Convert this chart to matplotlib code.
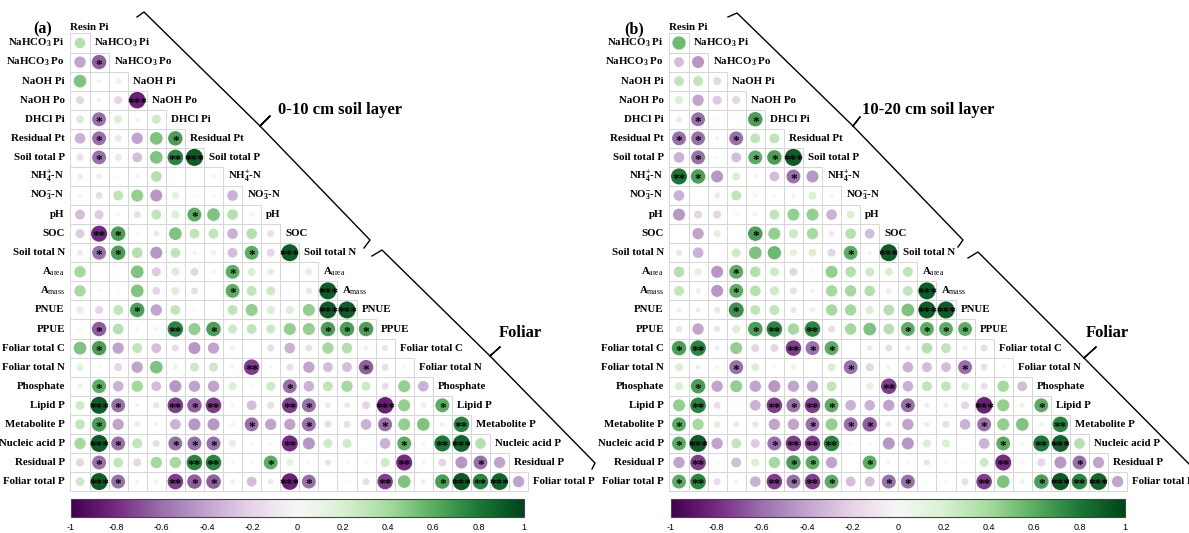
import numpy as np
import matplotlib
matplotlib.use('Agg')
import matplotlib.pyplot as plt
from matplotlib.patches import Circle, Rectangle
from matplotlib.lines import Line2D
from matplotlib.colors import Normalize
from matplotlib.cm import ScalarMappable
from matplotlib.ticker import FuncFormatter
from matplotlib.transforms import Affine2D

plt.rcParams['font.family'] = 'Liberation Serif'
plt.rcParams['mathtext.fontset'] = 'custom'
plt.rcParams['mathtext.rm'] = 'Liberation Serif'
plt.rcParams['mathtext.bf'] = 'Liberation Serif:bold'
plt.rcParams['mathtext.it'] = 'Liberation Serif:italic'

names = ['Resin Pi', r'NaHCO$_\mathbf{3}$ Pi', r'NaHCO$_\mathbf{3}$ Po', 'NaOH Pi', 'NaOH Po',
         'DHCl Pi', 'Residual Pt', 'Soil total P', r'NH$_\mathbf{4}^\mathbf{+}$-N',
         r'NO$_\mathbf{3}^\mathbf{-}$-N', 'pH', 'SOC', 'Soil total N', r'A$_\mathrm{area}$',
         r'A$_\mathrm{mass}$', 'PNUE', 'PPUE', 'Foliar total C', 'Foliar total N', 'Phosphate',
         'Lipid P', 'Metabolite P', 'Nucleic acid P', 'Residual P', 'Foliar total P']

# 0-10 cm layer, lower triangle (row i holds correlations with variables 0..i-1)
r_a = [
    [0.35],
    [-0.4, -0.65],
    [0.5, 0.05, 0.1],
    [-0.2, -0.05, -0.2, -0.85],
    [0.2, -0.6, 0.2, -0.05, 0.25],
    [-0.35, -0.6, 0.15, -0.4, 0.5, 0.65],
    [-0.15, -0.6, 0.15, -0.3, 0.5, 0.75, 0.9],
    [0.1, 0.1, 0.02, 0.05, 0.35, 0.02, 0.0, 0.05],
    [0.05, -0.15, 0.3, 0.45, -0.45, 0.15, 0.02, 0.03, -0.35],
    [-0.3, -0.25, 0.05, -0.15, 0.3, 0.2, 0.6, 0.5, 0.35, 0.05],
    [-0.25, -0.8, 0.65, 0.03, -0.1, 0.5, 0.3, 0.3, -0.35, 0.35, -0.15],
    [-0.1, -0.6, 0.65, 0.35, -0.45, 0.3, 0.05, 0.1, -0.3, 0.6, -0.2, 0.9],
    [0.4, 0.0, 0.02, 0.5, -0.25, 0.2, -0.2, 0.05, 0.6, 0.2, 0.15, 0.02, 0.15],
    [0.4, 0.03, 0.02, 0.5, -0.2, 0.2, -0.15, 0.0, 0.6, 0.3, 0.25, 0.02, 0.15, 0.9],
    [0.15, -0.2, 0.3, 0.65, -0.4, 0.3, 0.02, 0.0, 0.3, 0.45, 0.2, 0.2, 0.45, 0.9, 0.9],
    [0.03, -0.65, 0.35, 0.05, 0.05, 0.75, 0.45, 0.65, 0.25, 0.3, 0.25, 0.45, 0.45, 0.65, 0.65, 0.65],
    [0.5, 0.65, -0.4, 0.3, -0.3, -0.15, -0.45, -0.4, 0.08, 0.0, -0.15, -0.35, -0.15, 0.4, 0.35, 0.08, -0.12],
    [0.15, 0.03, -0.2, -0.4, 0.5, 0.08, 0.25, 0.25, 0.05, -0.75, 0.05, -0.15, -0.4, -0.3, -0.3, -0.65, -0.15, 0.03],
    [0.1, 0.6, -0.35, 0.4, -0.3, -0.45, -0.4, -0.4, 0.2, 0.02, 0.25, -0.6, -0.35, 0.3, 0.4, 0.25, -0.15, 0.45, -0.35],
    [0.25, 0.9, -0.6, 0.05, -0.12, -0.75, -0.65, -0.75, 0.05, -0.3, -0.15, -0.75, -0.6, -0.1, -0.1, -0.2, -0.85, 0.45, 0.1, 0.6],
    [0.3, 0.65, -0.4, -0.1, -0.05, -0.35, -0.45, -0.45, 0.05, -0.6, -0.4, -0.4, -0.6, -0.15, -0.15, -0.35, -0.6, 0.45, 0.5, 0.08, 0.75],
    [0.4, 0.9, -0.6, 0.3, -0.15, -0.6, -0.6, -0.6, 0.15, 0.03, 0.03, -0.8, -0.45, 0.25, 0.25, 0.0, -0.35, 0.6, 0.05, 0.8, 0.88, 0.35],
    [-0.2, -0.6, 0.3, -0.2, 0.4, 0.4, 0.75, 0.75, 0.03, 0.03, 0.6, 0.15, 0.03, -0.12, 0.03, 0.02, 0.25, -0.8, 0.05, -0.2, -0.45, -0.6, -0.4],
    [0.25, 0.9, -0.6, 0.05, -0.05, -0.75, -0.65, -0.65, 0.08, -0.3, -0.1, -0.85, -0.6, 0.0, 0.02, -0.15, -0.75, 0.5, 0.08, 0.65, 0.92, 0.75, 0.88, -0.4],
]
# number of stars per cell
sig_a = ["0", "01", "000", "0003", "01000", "010001", "0100023", "00000000",
         "000000000", "0000001000", "02100000000", "011000000103", "0000000010000",
         "00000000100003", "000100000000033", "0100020100000111", "01000000000000000",
         "000000000200000100", "0100000000010000000", "03100212000210003001",
         "010000000100100010002", "0310011100020000010230", "01000022001000000200010",
         "031002110003100020013230"]

# 10-20 cm layer
r_b = [
    [0.55],
    [-0.3, -0.45],
    [0.3, 0.3, -0.2],
    [0.2, -0.4, -0.25, -0.2],
    [-0.1, -0.6, 0.03, 0.02, 0.65],
    [-0.6, -0.6, 0.05, -0.6, 0.3, 0.3],
    [-0.35, -0.6, 0.03, -0.3, 0.6, 0.65, 0.9],
    [0.8, 0.65, -0.45, 0.2, 0.05, -0.3, -0.6, -0.45],
    [-0.35, 0.0, -0.1, 0.3, 0.05, 0.03, 0.05, 0.2, 0.05],
    [-0.45, -0.2, -0.2, 0.03, 0.05, 0.3, 0.45, 0.45, -0.35, 0.2],
    [0.0, -0.4, 0.15, 0.0, 0.65, 0.45, 0.25, 0.4, -0.1, 0.35, -0.3],
    [-0.12, -0.35, 0.0, 0.25, 0.5, 0.55, 0.15, 0.2, -0.2, 0.6, 0.05, 0.9],
    [0.35, 0.15, -0.45, 0.6, 0.35, 0.25, -0.2, 0.03, 0.45, 0.35, 0.25, 0.2, 0.3],
    [0.3, 0.1, -0.45, 0.6, 0.35, 0.25, -0.15, 0.05, 0.4, 0.4, 0.35, 0.1, 0.3, 0.9],
    [0.1, -0.08, -0.12, 0.7, 0.3, 0.3, -0.12, 0.1, 0.4, 0.4, 0.2, 0.35, 0.5, 0.9, 0.9],
    [-0.12, -0.4, -0.12, 0.2, 0.65, 0.75, 0.4, 0.75, -0.15, 0.4, 0.5, 0.35, 0.6, 0.6, 0.6, 0.6],
    [0.65, 0.75, -0.08, 0.45, -0.2, -0.2, -0.75, -0.6, 0.6, 0.0, -0.1, -0.15, -0.1, 0.35, 0.3, 0.1, -0.15],
    [0.2, -0.08, 0.05, -0.6, 0.2, 0.02, 0.08, 0.0, 0.2, -0.6, -0.2, -0.05, -0.35, -0.3, -0.3, -0.6, -0.15, 0.03],
    [0.2, 0.65, -0.4, 0.45, -0.4, -0.45, -0.4, -0.4, 0.3, 0.02, 0.15, -0.75, -0.35, 0.3, 0.3, 0.2, -0.15, 0.4, -0.3],
    [0.45, 0.75, -0.15, 0.02, -0.35, -0.75, -0.6, -0.75, 0.6, -0.35, -0.35, -0.4, -0.6, -0.08, -0.08, -0.2, -0.85, 0.45, 0.08, 0.6],
    [0.6, 0.4, 0.15, -0.1, -0.12, -0.4, -0.4, -0.6, 0.45, -0.6, -0.65, -0.1, -0.4, -0.08, -0.15, -0.35, -0.6, 0.45, 0.5, 0.08, 0.75],
    [0.6, 0.9, -0.4, 0.3, -0.25, -0.6, -0.75, -0.75, 0.75, 0.03, 0.03, -0.45, -0.45, 0.2, 0.2, 0.0, -0.35, 0.6, 0.05, 0.8, 0.88, 0.35],
    [-0.4, -0.75, 0.03, -0.3, 0.2, 0.4, 0.65, 0.6, -0.4, 0.0, 0.6, 0.05, 0.03, -0.12, 0.03, 0.02, 0.25, -0.8, 0.05, -0.2, -0.45, -0.6, -0.4],
    [0.6, 0.75, -0.15, 0.05, -0.35, -0.75, -0.6, -0.75, 0.6, -0.3, -0.3, -0.6, -0.6, 0.0, 0.02, -0.15, -0.75, 0.5, 0.08, 0.65, 0.92, 0.75, 0.88, -0.4],
]
sig_b = ["0", "00", "000", "0000", "01001", "110100", "0100113", "21000010",
         "000000000", "0000000000", "00001000000", "000000000103", "0001000000000",
         "00010000000003", "000100000000033", "0000120200001111", "12000021100000000",
         "000100000100000100", "0100000000020000000", "02000212100010003001",
         "100000010110000010002", "1300012220000000010230", "02000011001000000200010",
         "120002121001100020013230"]

cbar_ticks = [-1, -0.8, -0.6, -0.4, -0.2, 0, 0.2, 0.4, 0.6, 0.8, 1]

W, H = 1189, 533
fig = plt.figure(figsize=(W / 100, H / 100), dpi=100)
cmap = plt.get_cmap('PRGn')
norm = Normalize(-1, 1)
cw = 19.07  # cell size in pixels
px = Affine2D().scale(1 / W, -1 / H).translate(0, 1) + fig.transFigure
label_size = 7.8


def draw_matrix(x0, y0, r, sig):
    ax = fig.add_axes([0, 0, 1, 1])
    ax.set_xlim(-x0 / cw, (W - x0) / cw)
    ax.set_ylim((H - y0) / cw, -y0 / cw)
    ax.axis('off')
    for i, row in enumerate(r, start=1):
        for j, v in enumerate(row):
            ax.add_patch(Rectangle((j - 0.5, i - 0.5), 1, 1, fc='white', ec='#d6d6d6', lw=0.7))
            if v != 0:
                ax.add_patch(Circle((j, i), 0.47 * np.sqrt(abs(v)), fc=cmap(norm(v)), ec='none'))
            n = int(sig[i - 1][j]) if j < len(sig[i - 1]) else 0
            if n:
                ax.text(j, i + 0.29, '*' * n, ha='center', va='baseline', fontsize=9.5,
                        fontweight='bold', color='black')
        ax.text(-0.8, i, names[i], ha='right', va='center', fontsize=label_size, fontweight='bold')
        ax.text(i - 0.24, i, names[i], ha='left', va='center', fontsize=label_size, fontweight='bold')
    ax.text(-0.5, 0.2, names[0], ha='left', va='center', fontsize=label_size, fontweight='bold')


def bracket(points):
    xs, ys = zip(*points)
    fig.add_artist(Line2D(xs, ys, transform=px, color='black', lw=1.0))


def colorbar(x_left, x_right, y_top, y_bot):
    cax = fig.add_axes([x_left / W, 1 - y_bot / H, (x_right - x_left) / W, (y_bot - y_top) / H])
    cb = fig.colorbar(ScalarMappable(norm=norm, cmap=cmap), cax=cax, orientation='horizontal',
                      ticks=cbar_ticks)
    cb.ax.xaxis.set_major_formatter(FuncFormatter(lambda v, p: '%g' % (round(v, 1) + 0.0)))
    cb.ax.tick_params(length=0, pad=5, labelsize=6.5)
    for lab in cb.ax.get_xticklabels():
        lab.set_fontfamily('Liberation Sans')
    cb.outline.set_linewidth(0.8)
    cb.outline.set_edgecolor('#444444')


# panel (a)
draw_matrix(80, 23.9, r_a, sig_a)
fig.text(43 / W, 1 - 29 / H, '(a)', ha='center', va='center', fontsize=11.5, fontweight='bold')
bracket([(137, 17), (144, 12), (260, 126), (270, 116), (260, 126), (370, 240), (364, 248)])
bracket([(372, 256), (382, 250), (490, 356), (500, 347), (490, 356), (595, 463), (592, 469)])
fig.text(278 / W, 1 - 110 / H, '0-10 cm soil layer', ha='left', va='center', fontsize=12, fontweight='bold')
fig.text(499 / W, 1 - 333 / H, 'Foliar', ha='left', va='center', fontsize=12, fontweight='bold')
colorbar(71, 524, 498.5, 516.5)

# panel (b)
draw_matrix(679, 23.9, r_b, sig_b)
fig.text(634 / W, 1 - 29 / H, '(b)', ha='center', va='center', fontsize=11.5, fontweight='bold')
bracket([(728, 17), (737, 13), (853, 126), (860, 117), (853, 126), (963, 240), (958, 247)])
bracket([(968, 258), (978, 252), (1084, 358), (1096, 347), (1084, 358), (1196, 471)])
fig.text(862 / W, 1 - 110 / H, '10-20 cm soil layer', ha='left', va='center', fontsize=12, fontweight='bold')
fig.text(1086 / W, 1 - 333 / H, 'Foliar', ha='left', va='center', fontsize=12, fontweight='bold')
colorbar(671, 1125, 498.5, 516.5)

fig.savefig('out.png', dpi=100)
